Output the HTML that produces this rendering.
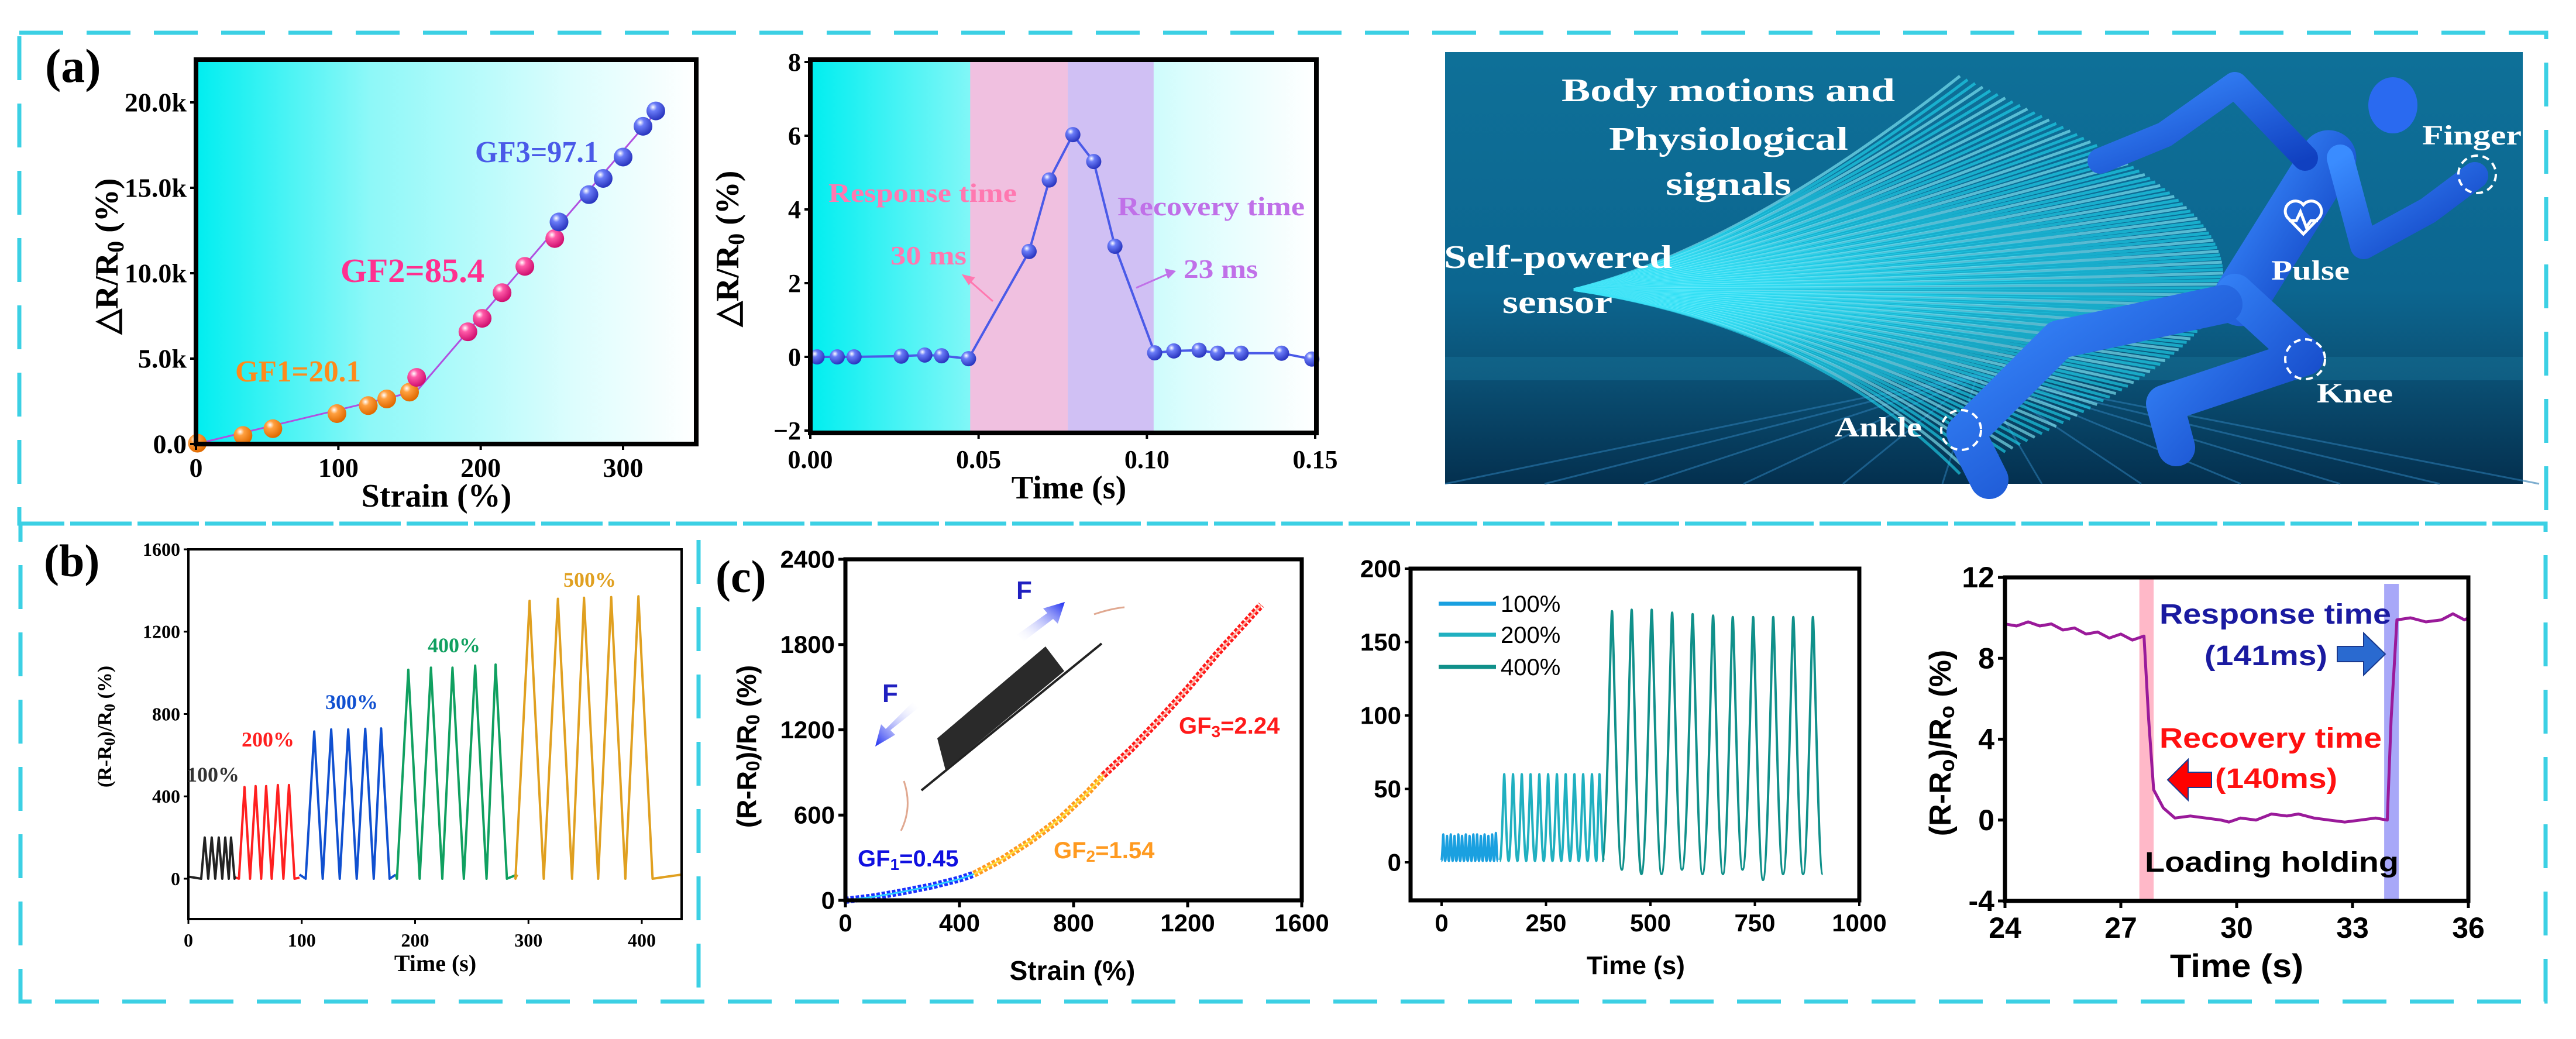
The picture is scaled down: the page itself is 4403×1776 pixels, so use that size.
<!DOCTYPE html>
<html><head><meta charset="utf-8">
<style>
body{margin:0;background:#fff}
svg{display:block}
.serif{font-family:"Liberation Serif",serif;font-weight:bold}
.sans{font-family:"Liberation Sans",sans-serif;font-weight:bold}
</style></head>
<body>
<svg id="fig" width="4403" height="1776" viewBox="0 0 4403 1776" xmlns="http://www.w3.org/2000/svg">
<defs>
  <linearGradient id="cyanGrad" x1="0" y1="0" x2="1" y2="0">
    <stop offset="0" stop-color="#00eef0"/><stop offset="0.35" stop-color="#8ef8f8"/>
    <stop offset="0.75" stop-color="#dcfdfd"/><stop offset="1" stop-color="#ffffff"/>
  </linearGradient>
  <radialGradient id="ballO" cx="0.35" cy="0.3" r="0.7"><stop offset="0" stop-color="#fff"/><stop offset="0.3" stop-color="#ffa040"/><stop offset="1" stop-color="#e06a00"/></radialGradient>
  <radialGradient id="ballP" cx="0.35" cy="0.3" r="0.7"><stop offset="0" stop-color="#fff"/><stop offset="0.3" stop-color="#ff5aa8"/><stop offset="1" stop-color="#d01070"/></radialGradient>
  <radialGradient id="ballB" cx="0.35" cy="0.3" r="0.7"><stop offset="0" stop-color="#fff"/><stop offset="0.3" stop-color="#6a7cf8"/><stop offset="1" stop-color="#2a36c0"/></radialGradient>
  <linearGradient id="sceneGrad" x1="0" y1="0" x2="0" y2="1">
    <stop offset="0" stop-color="#0e7098"/><stop offset="0.55" stop-color="#0c6690"/>
    <stop offset="0.72" stop-color="#0b5479"/><stop offset="1" stop-color="#04304f"/>
  </linearGradient>
  <linearGradient id="bodyGrad" x1="0" y1="0" x2="1" y2="1">
    <stop offset="0" stop-color="#3a8cff"/><stop offset="1" stop-color="#1040c0"/>
  </linearGradient>
  <linearGradient id="arrowBlueUp" x1="0" y1="1" x2="1" y2="0"><stop offset="0" stop-color="#ffffff" stop-opacity="0"/><stop offset="1" stop-color="#1a2af0"/></linearGradient>
  <linearGradient id="arrowBlueDn" x1="1" y1="0" x2="0" y2="1"><stop offset="0" stop-color="#ffffff" stop-opacity="0"/><stop offset="1" stop-color="#1a2af0"/></linearGradient>
</defs>

<g fill="none" stroke="#3cd0e4" stroke-width="7" stroke-dasharray="75 40">
  <rect x="33" y="56" width="4319" height="839"/>
  <rect x="35" y="895" width="4316" height="817"/>
  <line x1="1194" y1="923" x2="1194" y2="1707"/>
</g>

<text class="serif" x="77" y="140" font-size="82">(a)</text>
<text class="serif" x="75" y="985" font-size="78">(b)</text>
<text class="serif" x="1223" y="1012" font-size="78">(c)</text>

<g id="a1">
  <rect x="335" y="102" width="855" height="657" fill="url(#cyanGrad)"/>
  <g id="a1marks"></g>
  <rect x="335" y="102" width="855" height="657" fill="none" stroke="#000" stroke-width="8"/>
  <text class="serif" x="402" y="652" font-size="52" fill="#ff8a1a" textLength="215" lengthAdjust="spacingAndGlyphs">GF1=20.1</text>
  <text class="serif" x="582" y="482" font-size="58" fill="#ff3090" textLength="246" lengthAdjust="spacingAndGlyphs">GF2=85.4</text>
  <text class="serif" x="812" y="277" font-size="52" fill="#4a5ae8" textLength="211" lengthAdjust="spacingAndGlyphs">GF3=97.1</text>
  <text class="serif" x="746" y="866" font-size="56" text-anchor="middle">Strain (%)</text>
  <text class="serif" font-size="56" text-anchor="middle" transform="translate(201 438) rotate(-90)">△R/R<tspan font-size="40" dy="10">0</tspan><tspan dy="-10"> (%)</tspan></text>
</g>

<g id="a2">
  <rect x="1385" y="102" width="865" height="638" fill="url(#cyanGrad)"/>
  <g id="a2marks"></g>
  <rect x="1385" y="102" width="865" height="638" fill="none" stroke="#000" stroke-width="8"/>
  <text class="serif" x="1416" y="345" font-size="46" fill="#ff78b0" textLength="322" lengthAdjust="spacingAndGlyphs">Response time</text>
  <text class="serif" x="1910" y="368" font-size="46" fill="#c070e8" textLength="320" lengthAdjust="spacingAndGlyphs">Recovery time</text>
  <text class="serif" x="1522" y="452" font-size="46" fill="#ff78b0" textLength="130" lengthAdjust="spacingAndGlyphs">30 ms</text>
  <text class="serif" x="2023" y="475" font-size="46" fill="#c070e8" textLength="127" lengthAdjust="spacingAndGlyphs">23 ms</text>
  <g stroke="#ff78b0" stroke-width="3" fill="#ff78b0">
    <line x1="1697" y1="515" x2="1655" y2="478"/><polygon points="1647,471 1664,475 1656,485"/>
  </g>
  <g stroke="#c070e8" stroke-width="3" fill="#c070e8">
    <line x1="1942" y1="492" x2="1997" y2="468"/><polygon points="2007,464 1993,461 1997,474"/>
  </g>
  <text class="serif" x="1827" y="852" font-size="56" text-anchor="middle">Time (s)</text>
  <text class="serif" font-size="56" text-anchor="middle" transform="translate(1262 425) rotate(-90)">△R/R<tspan font-size="40" dy="10">0</tspan><tspan dy="-10"> (%)</tspan></text>
</g>

<g id="a3">
  <rect x="2470" y="89" width="1842" height="738" fill="url(#sceneGrad)"/>
  <rect x="2470" y="610" width="1842" height="40" fill="#1a7aa0" opacity="0.35"/>
  <g id="floorLines" stroke="#2a7ab0" stroke-width="3" opacity="0.6"></g>
  <g id="fan" fill="none"></g>
  <g fill="none" stroke="url(#bodyGrad)" stroke-linecap="round" stroke-linejoin="round">
    <path d="M3830 510 L3980 270" stroke-width="95"/>
    <path d="M3940 270 L3820 145 L3700 230 L3590 275" stroke-width="44"/>
    <path d="M4000 270 L4040 420 L4150 360 L4230 300" stroke-width="46"/>
    <path d="M3820 500 L3940 610 L3700 690 L3720 765" stroke-width="64"/>
    <path d="M3800 520 L3520 580 L3360 740 L3400 820" stroke-width="66"/>
    <ellipse cx="4090" cy="180" rx="42" ry="48" fill="#2a6af0" stroke="none"/>
  </g>
  <g fill="none" stroke="#fff" stroke-width="4" stroke-dasharray="12 8">
    <circle cx="4234" cy="298" r="32"/>
    <circle cx="3940" cy="614" r="34"/>
    <circle cx="3352" cy="735" r="34"/>
  </g>
  <path d="M3937 400 L3910 372 A16 16 0 0 1 3937 350 A16 16 0 0 1 3964 372 Z M3912 377 L3925 377 L3932 362 L3942 388 L3950 377 L3962 377" fill="none" stroke="#fff" stroke-width="5"/>
  <g class="serif" fill="#fff" font-size="56">
    <text x="2669" y="173" textLength="570" lengthAdjust="spacingAndGlyphs">Body motions and</text>
    <text x="2750" y="256" textLength="409" lengthAdjust="spacingAndGlyphs">Physiological</text>
    <text x="2847" y="333" textLength="215" lengthAdjust="spacingAndGlyphs">signals</text>
    <text x="2468" y="458" textLength="390" lengthAdjust="spacingAndGlyphs">Self-powered</text>
    <text x="2568" y="535" textLength="188" lengthAdjust="spacingAndGlyphs">sensor</text>
    <text x="4140" y="247" font-size="48" textLength="170" lengthAdjust="spacingAndGlyphs">Finger</text>
    <text x="3882" y="478" font-size="48" textLength="134" lengthAdjust="spacingAndGlyphs">Pulse</text>
    <text x="3960" y="688" font-size="48" textLength="130" lengthAdjust="spacingAndGlyphs">Knee</text>
    <text x="3136" y="746" font-size="48" textLength="149" lengthAdjust="spacingAndGlyphs">Ankle</text>
  </g>
</g>

<g id="b">
  <g id="bmarks"></g>
  <rect x="322" y="939" width="843" height="632" fill="none" stroke="#000" stroke-width="4"/>
  <g class="serif" font-size="36">
    <text x="319" y="1336" fill="#333">100%</text>
    <text x="413" y="1276" fill="#ff2020">200%</text>
    <text x="556" y="1212" fill="#1050d0">300%</text>
    <text x="731" y="1115" fill="#10a060">400%</text>
    <text x="963" y="1003" fill="#e0a020">500%</text>
  </g>
  <text class="serif" x="744" y="1660" font-size="40" text-anchor="middle">Time (s)</text>
  <text class="serif" font-size="34" text-anchor="middle" transform="translate(190 1242) rotate(-90)">(R-R<tspan font-size="26" dy="6">0</tspan><tspan dy="-6">)/R</tspan><tspan font-size="26" dy="6">0</tspan><tspan dy="-6"> (%)</tspan></text>
</g>

<g id="c1">
  <g>
    <line x1="1575" y1="1351" x2="1883" y2="1100" stroke="#222" stroke-width="4"/>
    <polygon points="1602,1262 1787,1105 1819,1147 1616,1316" fill="#2a2a2a"/>
    <path d="M1870 1050 Q1900 1040 1922 1038" stroke="#e0a890" stroke-width="3" fill="none"/>
    <path d="M1545 1335 Q1560 1380 1540 1420" stroke="#e0a890" stroke-width="3" fill="none"/>
    <polygon points="1738,1085 1790,1048 1783,1040 1820,1029 1808,1066 1800,1058 1750,1096" fill="url(#arrowBlueUp)"/>
    <polygon points="1570,1210 1522,1248 1530,1256 1496,1276 1506,1238 1514,1246 1560,1200" fill="url(#arrowBlueDn)"/>
    <text class="sans" x="1737" y="1024" font-size="44" fill="#2020c0">F</text>
    <text class="sans" x="1508" y="1200" font-size="44" fill="#2020c0">F</text>
  </g>
  <g id="c1marks"></g>
  <rect x="1445" y="956" width="780" height="583" fill="none" stroke="#000" stroke-width="7"/>
  <text class="sans" x="1466" y="1481" font-size="40" fill="#1010e0">GF<tspan font-size="28" dy="6">1</tspan><tspan dy="-6">=0.45</tspan></text>
  <text class="sans" x="1801" y="1467" font-size="40" fill="#ff9a20">GF<tspan font-size="28" dy="6">2</tspan><tspan dy="-6">=1.54</tspan></text>
  <text class="sans" x="2015" y="1254" font-size="40" fill="#ff1a1a">GF<tspan font-size="28" dy="6">3</tspan><tspan dy="-6">=2.24</tspan></text>
  <text class="sans" x="1833" y="1675" font-size="46" text-anchor="middle">Strain (%)</text>
  <text class="sans" font-size="46" text-anchor="middle" transform="translate(1292 1276) rotate(-90)">(R-R<tspan font-size="32" dy="6">0</tspan><tspan dy="-6">)/R</tspan><tspan font-size="32" dy="6">0</tspan><tspan dy="-6"> (%)</tspan></text>
</g>

<g id="c2">
  <g id="c2marks"></g>
  <rect x="2411" y="972" width="767" height="567" fill="none" stroke="#000" stroke-width="7"/>
  <g class="sans" font-size="40">
    <line x1="2459" y1="1032" x2="2557" y2="1032" stroke="#1aa0e0" stroke-width="7"/>
    <text x="2565" y="1046" font-weight="normal">100%</text>
    <line x1="2459" y1="1085" x2="2557" y2="1085" stroke="#20b0c0" stroke-width="7"/>
    <text x="2565" y="1099" font-weight="normal">200%</text>
    <line x1="2459" y1="1140" x2="2557" y2="1140" stroke="#10908a" stroke-width="7"/>
    <text x="2565" y="1154" font-weight="normal">400%</text>
  </g>
  <text class="sans" x="2796" y="1665" font-size="44" font-weight="normal" text-anchor="middle">Time (s)</text>
</g>

<g id="c3">
  <g id="c3marks"></g>
  <rect x="3427" y="987" width="792" height="553" fill="none" stroke="#000" stroke-width="7"/>
  <text class="sans" x="3691" y="1066" font-size="48" fill="#1a1aa0" textLength="396" lengthAdjust="spacingAndGlyphs">Response time</text>
  <text class="sans" x="3768" y="1137" font-size="48" fill="#1a1aa0" font-weight="normal" textLength="210" lengthAdjust="spacingAndGlyphs">(141ms)</text>
  <text class="sans" x="3691" y="1278" font-size="48" fill="#ff1010" font-weight="normal" textLength="380" lengthAdjust="spacingAndGlyphs">Recovery time</text>
  <text class="sans" x="3786" y="1347" font-size="48" fill="#ff1010" font-weight="normal" textLength="209" lengthAdjust="spacingAndGlyphs">(140ms)</text>
  <text class="sans" x="3666" y="1490" font-size="48" font-weight="normal" textLength="434" lengthAdjust="spacingAndGlyphs">Loading holding</text>
  <polygon points="3995,1105 4040,1105 4040,1082 4077,1118 4040,1154 4040,1131 3995,1131" fill="#2a6ad0" stroke="#1a3a90" stroke-width="2"/>
  <polygon points="3780,1320 3740,1320 3740,1298 3705,1333 3740,1368 3740,1346 3780,1346" fill="#ff0000" stroke="#1a3a90" stroke-width="2"/>
  <text class="sans" x="3823" y="1670" font-size="56" text-anchor="middle" textLength="228" lengthAdjust="spacingAndGlyphs">Time (s)</text>
  <text class="sans" font-size="52" text-anchor="middle" transform="translate(3334 1270) rotate(-90)">(R-R<tspan font-size="36" dy="6">o</tspan><tspan dy="-6">)/R</tspan><tspan font-size="36" dy="6">o</tspan><tspan dy="-6">  (%)</tspan></text>
</g>
</svg>

<script>
const a1Strain = [1, 33, 54, 99, 121, 134, 150, 155, 191, 201, 215, 231, 252, 255, 276, 286, 300, 314, 323];
const a1Value = [50, 500, 900, 1780, 2250, 2640, 3040, 3900, 6570, 7360, 8860, 10400, 12030, 13000, 14600, 15550, 16800, 18600, 19500];
const a1Group = [0, 0, 0, 0, 0, 0, 0, 1, 1, 1, 1, 1, 1, 2, 2, 2, 2, 2, 2];
const a1FitStrain = [0, 155, 325];
const a1FitValue = [0, 3100, 19600];
const a1XTicks = [0, 100, 200, 300];
const a1XTickLabels = ["0", "100", "200", "300"];
const a1YTicks = [0, 5000, 10000, 15000, 20000];
const a1YTickLabels = ["0.0", "5.0k", "10.0k", "15.0k", "20.0k"];
const a2Time = [0.002, 0.008, 0.013, 0.027, 0.034, 0.039, 0.047, 0.065, 0.071, 0.078, 0.0842, 0.0905, 0.1023, 0.108, 0.1155, 0.121, 0.128, 0.140, 0.149];
const a2Value = [0, 0, 0, 0.02, 0.05, 0.03, -0.05, 2.86, 4.8, 6.03, 5.3, 3.0, 0.11, 0.16, 0.18, 0.1, 0.1, 0.1, -0.06];
const a2BandStart = [0.0475, 0.0765];
const a2BandEnd = [0.0765, 0.102];
const a2XTicks = [0, 0.05, 0.10, 0.15];
const a2XTickLabels = ["0.00", "0.05", "0.10", "0.15"];
const a2YTicks = [-2, 0, 2, 4, 6, 8];
const a2YTickLabels = ["−2", "0", "2", "4", "6", "8"];
const bNames = ["100%", "200%", "300%", "400%", "500%"];
const bStart = [0, 42, 98, 183, 290];
const bEnd = [42, 98, 183, 290, 435];
const bBase = [10, 5, 20, 20, 20];
const bPeakTimes = [[14.4, 20.6, 26.8, 32.5, 37.6], [49.5, 59.3, 68.6, 78.9, 88.7], [111, 126, 141, 156, 170], [194, 214, 233, 253, 271], [301, 326, 349, 373, 397]];
const bPeakValues = [[200, 200, 200, 200, 200], [445, 450, 450, 455, 455], [715, 725, 725, 728, 730], [1015, 1025, 1025, 1035, 1040], [1350, 1360, 1365, 1368, 1372]];
const bXTicks = [0, 100, 200, 300, 400];
const bXTickLabels = ["0", "100", "200", "300", "400"];
const bYTicks = [0, 400, 800, 1200, 1600];
const bYTickLabels = ["0", "400", "800", "1200", "1600"];
const c1Strain1 = [0, 100, 200, 300, 400, 451];
const c1Value1 = [0, 25, 60, 100, 150, 185];
const c1Strain2 = [451, 550, 650, 750, 850, 905];
const c1Value2 = [185, 290, 420, 570, 760, 881];
const c1Strain3 = [905, 1000, 1100, 1200, 1300, 1400, 1458];
const c1Value3 = [881, 1060, 1270, 1490, 1730, 1950, 2079];
const c1XTicks = [0, 400, 800, 1200, 1600];
const c1XTickLabels = ["0", "400", "800", "1200", "1600"];
const c1YTicks = [0, 600, 1200, 1800, 2400];
const c1YTickLabels = ["0", "600", "1200", "1800", "2400"];
const c2Names = ["100%", "200%", "400%"];
const c2PeakTimes = [[4, 13, 22, 31, 40, 49, 58, 67, 76, 85, 94, 103, 112, 121, 130],
  [150, 171, 192, 213, 234, 255, 276, 297, 318, 339, 360, 378],
  [408, 455, 503, 552, 601, 650, 697, 746, 794, 842, 889]];
const c2PeakValues = [[19, 18, 19, 18, 19, 18, 19, 18, 19, 19, 18, 19, 18, 19, 20],
  [60, 60, 60, 60, 60, 60, 60, 60, 60, 60, 60, 60],
  [171, 172, 172, 170, 169, 168, 167, 167, 167, 167, 167]];
const c2ValleyValues = [[1, 1, 1, 1, 1, 1, 1, 1, 1, 1, 1, 1, 1, 1, 1, 1],
  [1, 1, 1, 1, 1, 1, 1, 1, 1, 1, 1, 1, 1],
  [1, -5, -8, -8, -5, -8, -8, -5, -12, -8, -8, -8]];
const c2XTicks = [0, 250, 500, 750, 1000];
const c2XTickLabels = ["0", "250", "500", "750", "1000"];
const c2YTicks = [0, 50, 100, 150, 200];
const c2YTickLabels = ["0", "50", "100", "150", "200"];
const c3Time = [24, 24.3, 24.6, 24.9, 25.2, 25.5, 25.8, 26.1, 26.4, 26.7, 27.0, 27.3, 27.6, 27.72, 27.85, 28.1, 28.4, 28.8, 29.2, 29.6, 29.8, 30.1, 30.5, 30.9, 31.3, 31.6, 32.0, 32.4, 32.8, 33.2, 33.6, 33.9, 34.0, 34.15, 34.5, 34.9, 35.3, 35.6, 35.9, 36];
const c3Value = [9.7, 9.6, 9.8, 9.6, 9.7, 9.4, 9.5, 9.2, 9.3, 9.0, 9.2, 8.9, 9.1, 5.0, 1.5, 0.6, 0.1, 0.2, 0.1, 0.0, -0.1, 0.1, 0.0, 0.3, 0.2, 0.3, 0.1, 0.0, -0.1, 0.0, 0.1, 0.0, 5.0, 9.9, 10.0, 9.8, 9.9, 10.2, 9.9, 10.0];
const c3BandStart = [27.48, 33.82];
const c3BandEnd = [27.85, 34.2];
const c3XTicks = [24, 27, 30, 33, 36];
const c3XTickLabels = ["24", "27", "30", "33", "36"];
const c3YTicks = [-4, 0, 4, 8, 12];
const c3YTickLabels = ["-4", "0", "4", "8", "12"];

const NS = "http://www.w3.org/2000/svg";
function lin(d0, d1, r0, r1) { return v => r0 + (v - d0) * (r1 - r0) / (d1 - d0); }
function mk(tag, attrs, parent) {
  const e = document.createElementNS(NS, tag);
  for (const k in attrs) e.setAttribute(k, attrs[k]);
  parent.appendChild(e);
  return e;
}
function pathFrom(xs, ys, sx, sy) {
  return xs.map((x, i) => (i ? "L" : "M") + sx(x).toFixed(1) + " " + sy(ys[i]).toFixed(1)).join(" ");
}
function axes(parent, sx, sy, xt, xl, yt, yl, box, opt) {
  for (let i = 0; i < xt.length; i++) {
    const x = sx(xt[i]);
    const t = mk("line", {x1: x, y1: box.b, x2: x, y2: box.b + opt.tick, stroke: "#000", "stroke-width": opt.tw}, parent);
    
    
    const l = mk("text", {x: x, y: opt.xBase, "text-anchor": "middle", "font-size": opt.fs, class: opt.cls}, parent);
    l.textContent = xl[i];
    
    
  }
  for (let i = 0; i < yt.length; i++) {
    const y = sy(yt[i]);
    const t = mk("line", {x1: box.l - opt.tick, y1: y, x2: box.l, y2: y, stroke: "#000", "stroke-width": opt.tw}, parent);
    
    
    const l = mk("text", {x: box.l - opt.tick - 6, y: y + opt.fs * 0.34, "text-anchor": "end", "font-size": opt.fs, class: opt.cls}, parent);
    l.textContent = yl[i];
    
    
  }
}

(function () {
  const g = document.getElementById("a1marks");
  const sx = lin(0, 300, 335, 1065), sy = lin(0, 20000, 759, 175);
  const fit = mk("path", {d: pathFrom(a1FitStrain, a1FitValue, sx, sy), fill: "none", stroke: "#b050e0", "stroke-width": 3}, g);
  
  
  const fills = ["url(#ballO)", "url(#ballP)", "url(#ballB)"];
  for (let i = 0; i < a1Strain.length; i++) {
    const c = mk("circle", {cx: sx(a1Strain[i]), cy: sy(a1Value[i]), r: 16, fill: fills[a1Group[i]]}, g);
    
    
  }
  axes(document.getElementById("a1"), sx, sy, a1XTicks, a1XTickLabels, a1YTicks, a1YTickLabels, {l: 335, b: 759}, {tick: 10, tw: 4, xBase: 815, fs: 46, cls: "serif"});
})();

(function () {
  const g = document.getElementById("a2marks");
  const sx = lin(0, 0.15, 1385, 2248), sy = lin(-2, 8, 736, 106);
  const colors = ["#f0c0e0", "#d0c0f4"];
  for (let i = 0; i < a2BandStart.length; i++) {
    const r = mk("rect", {x: sx(a2BandStart[i]), y: 104, width: sx(a2BandEnd[i]) - sx(a2BandStart[i]), height: 634, fill: colors[i]}, g);
    
    
  }
  const ln = mk("path", {d: pathFrom(a2Time, a2Value, sx, sy), fill: "none", stroke: "#4a5ae8", "stroke-width": 4}, g);
  
  
  for (let i = 0; i < a2Time.length; i++) {
    const c = mk("circle", {cx: sx(a2Time[i]), cy: sy(a2Value[i]), r: 13, fill: "url(#ballB)"}, g);
    
    
  }
  axes(document.getElementById("a2"), sx, sy, a2XTicks, a2XTickLabels, a2YTicks, a2YTickLabels, {l: 1385, b: 740}, {tick: 10, tw: 4, xBase: 800, fs: 44, cls: "serif"});
})();

(function () {
  const fan = document.getElementById("fan");
  for (let i = 0; i < 110; i++) {
    const f = i / 109;
    const ey = 130 + f * 680;
    const ex = 3350 + 450 * Math.sin(f * Math.PI);
    const p = mk("path", {d: `M2690 495 Q${2980 + f * 120} ${495 + (ey - 495) * 0.2} ${ex} ${ey}`, stroke: i % 3 ? "#22dcf4" : "#8af4ff", "stroke-width": 5, opacity: 0.6}, fan);
    
    
  }
  const fl = document.getElementById("floorLines");
  for (let i = 0; i < 12; i++) {
    const l = mk("line", {x1: 3380, y1: 640, x2: 2470 + i * 170, y2: 827}, fl);
    
    
  }
})();

(function () {
  const g = document.getElementById("bmarks");
  const sx = lin(0, 400, 322, 1097), sy = lin(0, 1600, 1502, 939);
  const colors = ["#222", "#ff2020", "#1050d0", "#10a060", "#e0a020"];
  for (let s = 0; s < bNames.length; s++) {
    const pt = bPeakTimes[s], pv = bPeakValues[s];
    const h = (pt[1] - pt[0]) / 2;
    const xs = [bStart[s], pt[0] - h], ys = [bBase[s], 0];
    for (let i = 0; i < pt.length; i++) { xs.push(pt[i], pt[i] + h); ys.push(pv[i], 0); }
    xs.push(bEnd[s]); ys.push(bBase[s]);
    const p = mk("path", {d: pathFrom(xs, ys, sx, sy), fill: "none", stroke: colors[s], "stroke-width": 4, "stroke-linejoin": "round"}, g);
    
    
  }
  axes(document.getElementById("b"), sx, sy, bXTicks, bXTickLabels, bYTicks, bYTickLabels, {l: 322, b: 1571}, {tick: 8, tw: 3, xBase: 1618, fs: 32, cls: "serif"});
})();

(function () {
  const g = document.getElementById("c1marks");
  const sx = lin(0, 1600, 1445, 2225), sy = lin(0, 2400, 1539, 956);
  const sets = [[c1Strain1, c1Value1, "#1a30ff", "#30d0ff"], [c1Strain2, c1Value2, "#ff9a20", "#ffe040"], [c1Strain3, c1Value3, "#ff1a1a", "#ffb0a0"]];
  for (const [xs, ys, c, c2] of sets) {
    const p = mk("path", {d: pathFrom(xs, ys, sx, sy), fill: "none", stroke: c, "stroke-width": 12, "stroke-dasharray": "6 3"}, g);
    
    
    const q = mk("path", {d: pathFrom(xs, ys, sx, sy), fill: "none", stroke: c2, "stroke-width": 3}, g);
    
    
  }
  axes(document.getElementById("c1"), sx, sy, c1XTicks, c1XTickLabels, c1YTicks, c1YTickLabels, {l: 1445, b: 1539}, {tick: 12, tw: 5, xBase: 1592, fs: 42, cls: "sans"});
})();

(function () {
  const g = document.getElementById("c2marks");
  const sx = lin(0, 1000, 2464, 3178), sy = lin(0, 200, 1474, 972);
  const colors = ["#1aa0e0", "#20b0c0", "#10908a"];
  for (let s = 0; s < c2Names.length; s++) {
    const pt = c2PeakTimes[s], pv = c2PeakValues[s], vv = c2ValleyValues[s];
    const h = (pt[1] - pt[0]) / 2;
    let d = "M" + sx(pt[0] - h).toFixed(1) + " " + sy(vv[0]).toFixed(1);
    for (let i = 0; i < pt.length; i++) {
      const vx0 = sx(pt[i] - h), px = sx(pt[i]), vx1 = sx(pt[i] + h);
      const py = sy(pv[i]), vy0 = sy(vv[i]), vy1 = sy(vv[i + 1]);
      const q = (px - vx0) * 0.45;
      d += ` C${(vx0 + q).toFixed(1)} ${vy0.toFixed(1)} ${(px - q * 0.3).toFixed(1)} ${py.toFixed(1)} ${px.toFixed(1)} ${py.toFixed(1)}`;
      d += ` C${(px + q * 0.3).toFixed(1)} ${py.toFixed(1)} ${(vx1 - q).toFixed(1)} ${vy1.toFixed(1)} ${vx1.toFixed(1)} ${vy1.toFixed(1)}`;
    }
    const p = mk("path", {d: d, fill: "none", stroke: colors[s], "stroke-width": 4, "stroke-linejoin": "round"}, g);
    
    
  }
  axes(document.getElementById("c2"), sx, sy, c2XTicks, c2XTickLabels, c2YTicks, c2YTickLabels, {l: 2411, b: 1539}, {tick: 10, tw: 4, xBase: 1592, fs: 42, cls: "sans"});
})();

(function () {
  const g = document.getElementById("c3marks");
  const sx = lin(24, 36, 3427, 4219), sy = lin(-4, 12, 1540, 987);
  const colors = ["#ffb8c8", "#a8a8f8"];
  for (let i = 0; i < c3BandStart.length; i++) {
    const r = mk("rect", {x: sx(c3BandStart[i]), y: i ? 998 : 990, width: sx(c3BandEnd[i]) - sx(c3BandStart[i]), height: i ? 540 : 548, fill: colors[i]}, g);
    
    
  }
  const p = mk("path", {d: pathFrom(c3Time, c3Value, sx, sy), fill: "none", stroke: "#9a1a9a", "stroke-width": 5, "stroke-linejoin": "round"}, g);
  
  
  axes(document.getElementById("c3"), sx, sy, c3XTicks, c3XTickLabels, c3YTicks, c3YTickLabels, {l: 3427, b: 1540}, {tick: 12, tw: 5, xBase: 1603, fs: 50, cls: "sans"});
})();
</script>
</body></html>
